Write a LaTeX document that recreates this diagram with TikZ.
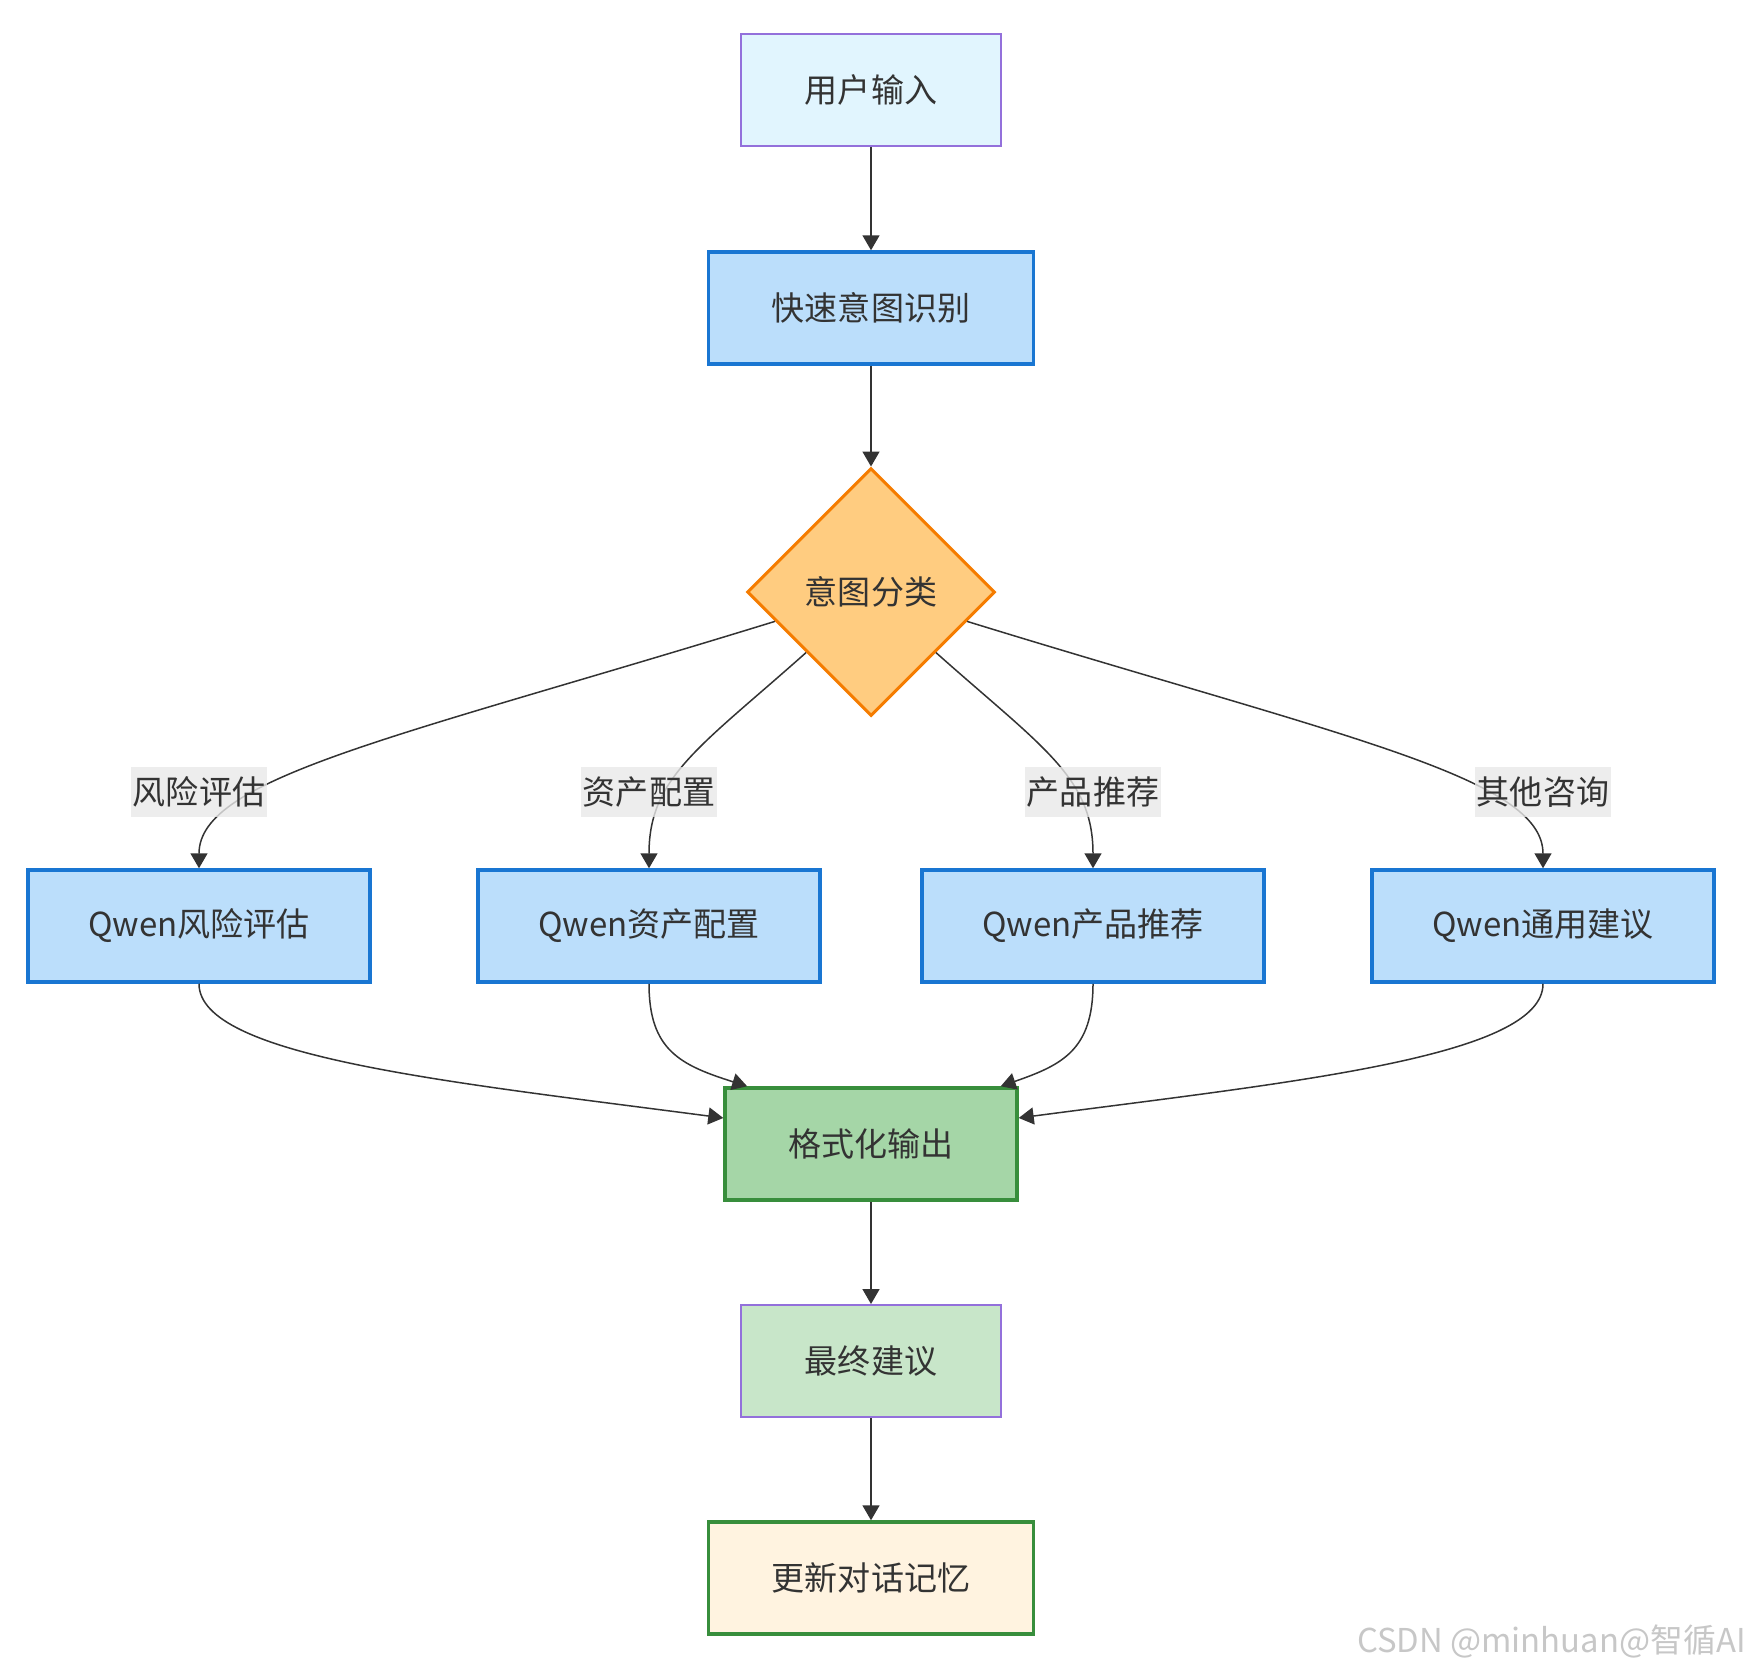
\documentclass[tikz,border=0pt]{standalone}
\usepackage{fontspec}
\setmainfont{Noto Sans CJK SC}
\usetikzlibrary{shapes.geometric, arrows.meta}
\definecolor{txt}{HTML}{333333}
\definecolor{mpurple}{HTML}{9370DB}
\definecolor{ufill}{HTML}{E1F5FE}
\definecolor{bfill}{HTML}{BBDEFB}
\definecolor{bdraw}{HTML}{1976D2}
\definecolor{ofill}{HTML}{FFCC80}
\definecolor{odraw}{HTML}{F57C00}
\definecolor{gfill}{HTML}{A5D6A7}
\definecolor{gdraw}{HTML}{388E3C}
\definecolor{lgfill}{HTML}{C8E6C9}
\definecolor{cream}{HTML}{FFF3E0}
\definecolor{lgray}{HTML}{E8E8E8}

\begin{document}
\begin{tikzpicture}[x=0.02cm, y=-0.02cm,
        every node/.style={font=\fontsize{18.8}{22}\selectfont, text=txt},
        box/.style={rectangle, minimum height=2.24cm, inner sep=0pt},
        thinbox/.style={box, draw=mpurple, line width=0.04cm},
        bluebox/.style={box, fill=bfill, draw=bdraw, line width=0.07cm, minimum width=6.84cm},
        greenbox/.style={box, draw=gdraw, line width=0.07cm},
        flow/.style={draw=txt, line width=0.03cm, -{Triangle[length=0.3cm, width=0.34cm]}},
        lbl/.style={fill=lgray, fill opacity=0.8, text opacity=1, inner xsep=0.03cm, inner ysep=0pt, minimum height=1cm}]
        \useasboundingbox (0,0) rectangle (1750,1668);

        \node[thinbox, fill=ufill, minimum width=5.2cm] (in) at (871,90) {用户输入};
        \node[box, fill=bfill, draw=bdraw, line width=0.07cm, minimum width=6.5cm] (fast) at (871,308) {快速意图识别};
        \node[diamond, aspect=1, fill=ofill, draw=odraw, line width=0.06cm, inner sep=0pt,
              minimum width=4.96cm, minimum height=4.96cm] (cls) at (871,592) {意图分类};

        \node[bluebox] (q1) at (199,926)  {Qwen风险评估};
        \node[bluebox] (q2) at (649,926)  {Qwen资产配置};
        \node[bluebox] (q3) at (1093,926) {Qwen产品推荐};
        \node[bluebox] (q4) at (1543,926) {Qwen通用建议};

        \node[greenbox, fill=gfill, minimum width=5.84cm] (fmt) at (871,1144) {格式化输出};
        \node[thinbox, fill=lgfill, minimum width=5.2cm] (final) at (871,1361) {最终建议};
        \node[greenbox, fill=cream, minimum width=6.5cm] (mem) at (871,1578) {更新对话记忆};

        \draw[flow] (in) -- (fast);
        \draw[flow] (fast) -- (cls);
        \draw[flow] (cls.197) .. controls (400,737) and (199,777) .. (q1.north);
        \draw[flow] (cls.223) .. controls (700,747) and (649,777) .. (q2.north);
        \draw[flow] (cls.317) .. controls (1042,747) and (1093,777) .. (q3.north);
        \draw[flow] (cls.343) .. controls (1342,737) and (1543,777) .. (q4.north);

        \node[lbl] (l1) at (199,792)  {风险评估};
        \node[lbl] (l2) at (649,792)  {资产配置};
        \node[lbl] (l3) at (1093,792) {产品推荐};
        \node[lbl] (l4) at (1543,792) {其他咨询};

        \draw[flow] (q1.south) .. controls (199,1057) and (450,1082) .. (fmt.170);
        \draw[flow] (q2.south) .. controls (649,1050) and (680,1065) .. (fmt.155.7);
        \draw[flow] (q3.south) .. controls (1093,1050) and (1062,1065) .. (fmt.24.3);
        \draw[flow] (q4.south) .. controls (1543,1057) and (1292,1082) .. (fmt.10);
        \draw[flow] (fmt) -- (final);
        \draw[flow] (final) -- (mem);

        \node[anchor=east, text=black!22, font=\fontsize{18.7}{22}\selectfont] (wm) at (1752,1641) {CSDN @minhuan@智循AI};
      \end{tikzpicture}
\end{document}
